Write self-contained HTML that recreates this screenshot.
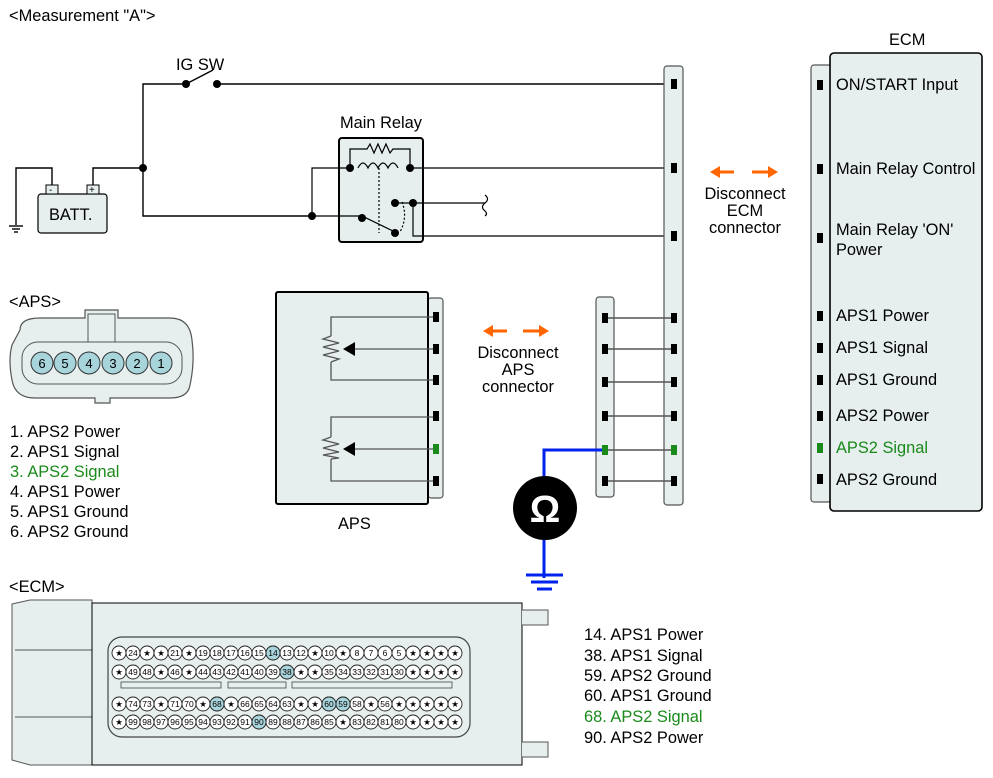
<!DOCTYPE html>
<html><head><meta charset="utf-8"><style>
html,body{margin:0;padding:0;background:#fff}
svg{display:block}
text{font-family:"Liberation Sans",Arial,sans-serif;fill:#000}
.l{font-size:16.4px}
.p{font-size:8.5px;text-anchor:middle}
</style></head><body>
<svg width="993" height="778" viewBox="0 0 993 778" xmlns="http://www.w3.org/2000/svg">
<text x="9" y="21" class="l">&lt;Measurement "A"&gt;</text>

<!-- top wiring -->
<g stroke="#000" stroke-width="1.4" fill="none">
<polyline points="186,84 143,84 143,216 312,216"/>
<line x1="217" y1="84" x2="673" y2="84"/>
<line x1="186" y1="84" x2="213" y2="70"/>
<polyline points="93,188 93,168 143,168"/>
<polyline points="52,188 52,168 16,168 16,225"/>
<line x1="9" y1="226" x2="23" y2="226"/><line x1="12" y1="229" x2="20" y2="229"/><line x1="14" y1="232" x2="18" y2="232"/>
</g>
<circle cx="186" cy="84" r="4"/><circle cx="217" cy="84" r="4"/><circle cx="143" cy="168" r="4"/>
<text x="176" y="70" class="l">IG SW</text>

<!-- battery -->
<rect x="38" y="194" width="69" height="39" rx="3" fill="#e6eeee" stroke="#000" stroke-width="1.2"/>
<rect x="46" y="185" width="12" height="9" fill="#e6eeee" stroke="#000"/>
<rect x="87" y="185" width="12" height="9" fill="#e6eeee" stroke="#000"/>
<text x="49" y="193" font-size="10">-</text><text x="89" y="193" font-size="10">+</text>
<text x="49" y="220" class="l">BATT.</text>

<!-- main relay -->
<text x="340" y="128" class="l">Main Relay</text>
<rect x="339" y="138" width="84" height="104" rx="3" fill="#e6eeee" stroke="#000" stroke-width="2"/>
<g stroke="#000" stroke-width="1.2" fill="none">
<polyline points="350,168 350,149 367,149 370,144 374,153 378,144 382,153 386,144 390,153 393,149 410,149 410,168"/>
<path d="M358,168 q5,-10 10,0 q5,-10 10,0 q5,-10 10,0 q5,-10 10,0"/>
<line x1="379" y1="168" x2="379" y2="233" stroke-dasharray="2,2"/>
<path d="M402,202 q6,15 -2,30" stroke-dasharray="2,2"/>
<polyline points="312,216 362,216 395,232"/>
<polyline points="312,216 312,168 350,168"/>
<line x1="410" y1="168" x2="673" y2="168"/>
<polyline points="395,203 413,203 413,236 673,236"/>
<line x1="413" y1="203" x2="485" y2="203"/>
<path d="M485,195 q5,4 0,8 q-5,4 0,8 q3,3 0,5"/>
</g>
<circle cx="312" cy="216" r="4"/><circle cx="350" cy="168" r="4"/><circle cx="410" cy="168" r="4"/>
<circle cx="362" cy="218" r="4"/><circle cx="395" cy="233" r="4"/><circle cx="395" cy="203" r="4"/><circle cx="413" cy="203" r="4"/>

<!-- ECM middle connector bar -->
<rect x="664" y="66" width="19" height="439" rx="3" fill="#e6eeee" stroke="#555" stroke-width="1.2"/>
<!-- APS side connector -->
<rect x="596" y="297" width="18" height="200" rx="3" fill="#e6eeee" stroke="#555" stroke-width="1.2"/>
<g stroke="#555" stroke-width="1.4">
<line x1="604" y1="318" x2="673" y2="318"/><line x1="604" y1="349" x2="673" y2="349"/><line x1="604" y1="382" x2="673" y2="382"/>
<line x1="604" y1="416" x2="673" y2="416"/><line x1="604" y1="450" x2="673" y2="450"/><line x1="604" y1="481" x2="673" y2="481"/>
</g>
<g fill="#000">
<rect x="671" y="79" width="6" height="10"/><rect x="671" y="163" width="6" height="10"/><rect x="671" y="231" width="6" height="10"/>
<rect x="671" y="313" width="6" height="10"/><rect x="671" y="344" width="6" height="10"/><rect x="671" y="377" width="6" height="10"/>
<rect x="671" y="411" width="6" height="10"/><rect x="671" y="476" width="6" height="10"/>
<rect x="602" y="313" width="6" height="10"/><rect x="602" y="344" width="6" height="10"/><rect x="602" y="377" width="6" height="10"/>
<rect x="602" y="411" width="6" height="10"/><rect x="602" y="476" width="6" height="10"/>
</g>
<rect x="671" y="445" width="6" height="10" fill="#1a8a1a"/>
<!-- blue meter -->
<polyline points="602,450 544,450 544,578" stroke="#0022ee" stroke-width="3" fill="none"/>
<line x1="526" y1="575" x2="563" y2="575" stroke="#0022ee" stroke-width="3"/>
<line x1="531" y1="582" x2="558" y2="582" stroke="#0022ee" stroke-width="3"/>
<line x1="537" y1="589" x2="552" y2="589" stroke="#0022ee" stroke-width="3"/>
<rect x="602" y="445" width="6" height="10" fill="#1a8a1a"/>
<circle cx="545" cy="508" r="32" fill="#000"/>
<text x="545" y="522" text-anchor="middle" font-size="38" font-weight="bold" style="fill:#fff">Ω</text>

<!-- orange arrows -->
<g fill="#ff6600" stroke="#ff6600" stroke-width="3">
<line x1="717" y1="172" x2="734" y2="172"/><polygon points="710,172 720,166 720,178" stroke="none"/>
<line x1="752" y1="172" x2="770" y2="172"/><polygon points="778,172 768,166 768,178" stroke="none"/>
<line x1="490" y1="331" x2="507" y2="331"/><polygon points="483,331 493,325 493,337" stroke="none"/>
<line x1="523" y1="331" x2="541" y2="331"/><polygon points="549,331 539,325 539,337" stroke="none"/>
</g>
<g class="l" text-anchor="middle">
<text x="745" y="199">Disconnect</text><text x="745" y="216">ECM</text><text x="745" y="233">connector</text>
<text x="518" y="358">Disconnect</text><text x="518" y="375">APS</text><text x="518" y="392">connector</text>
</g>

<!-- APS box -->
<rect x="428" y="298" width="15" height="200" rx="3" fill="#e6eeee" stroke="#555" stroke-width="1.2"/>
<rect x="276" y="292" width="152" height="212" rx="2" fill="#e6eeee" stroke="#000" stroke-width="2"/>
<g stroke="#555" stroke-width="1.3" fill="none">
<polyline points="435,317 331,317 331,336"/><polyline points="331,362 331,380 435,380"/>
<polyline points="435,417 331,417 331,437"/><polyline points="331,459 331,481 435,481"/>
<polyline points="331,336 323,339 339,343 323,347 339,351 323,355 339,359 331,362"/>
<polyline points="331,437 323,440 339,444 323,448 339,452 323,455 339,458 331,459"/>
<line x1="345" y1="349" x2="435" y2="349"/><line x1="345" y1="449" x2="435" y2="449"/>
</g>
<polygon points="343,349 355,342 355,356"/><polygon points="343,449 355,442 355,456"/>
<g fill="#000"><rect x="433" y="312" width="6" height="10"/><rect x="433" y="344" width="6" height="10"/><rect x="433" y="375" width="6" height="10"/><rect x="433" y="411" width="6" height="10"/><rect x="433" y="476" width="6" height="10"/></g>
<rect x="433" y="444" width="6" height="10" fill="#1a8a1a"/>
<text x="338" y="529" class="l">APS</text>

<!-- ECM right box -->
<rect x="811" y="65" width="20" height="437" rx="3" fill="#e6eeee" stroke="#555" stroke-width="1.2"/>
<rect x="830" y="53" width="152" height="458" rx="4" fill="#e6eeee" stroke="#000" stroke-width="1.6"/>
<text x="889" y="45" class="l">ECM</text>
<g fill="#000"><rect x="817" y="80" width="6" height="10"/><rect x="817" y="164" width="6" height="10"/><rect x="817" y="233" width="6" height="10"/><rect x="817" y="311" width="6" height="10"/><rect x="817" y="343" width="6" height="10"/><rect x="817" y="375" width="6" height="10"/><rect x="817" y="411" width="6" height="10"/><rect x="817" y="474" width="6" height="10"/></g>
<rect x="817" y="443" width="6" height="10" fill="#1a8a1a"/>
<g class="l">
<text x="836" y="90">ON/START Input</text>
<text x="836" y="174">Main Relay Control</text>
<text x="836" y="235">Main Relay 'ON'</text><text x="836" y="255">Power</text>
<text x="836" y="321">APS1 Power</text><text x="836" y="353">APS1 Signal</text><text x="836" y="385">APS1 Ground</text>
<text x="836" y="421">APS2 Power</text><text x="836" y="453" style="fill:#1a8a1a">APS2 Signal</text><text x="836" y="485">APS2 Ground</text>
</g>

<!-- APS connector face -->
<text x="9" y="307" class="l">&lt;APS&gt;</text>
<path d="M20,330 Q20,318 40,318 L85,318 L85,310 L118,310 L118,318 L170,318 Q190,318 192,340 Q195,362 190,385 Q188,398 170,398 L110,398 L110,403 L95,403 L95,398 L35,398 Q15,398 12,380 Q8,360 12,345 Z" fill="#e6eeee" stroke="#555" stroke-width="1.2"/>
<rect x="88" y="314" width="27" height="38" fill="#e6eeee" stroke="#555"/>
<rect x="22" y="342" width="160" height="42" rx="16" fill="#e6eeee" stroke="#555"/>
<g fill="#a8d4dc" stroke="#333" stroke-width="1">
<circle cx="42" cy="363" r="11"/><circle cx="65" cy="363" r="11"/><circle cx="89" cy="363" r="11"/><circle cx="113" cy="363" r="11"/><circle cx="137" cy="363" r="11"/><circle cx="161" cy="363" r="11"/>
</g>
<g font-size="13" text-anchor="middle"><text x="42" y="368">6</text><text x="65" y="368">5</text><text x="89" y="368">4</text><text x="113" y="368">3</text><text x="137" y="368">2</text><text x="161" y="368">1</text></g>
<g class="l">
<text x="10" y="437">1. APS2 Power</text><text x="10" y="457">2. APS1 Signal</text>
<text x="10" y="477" style="fill:#1a8a1a">3. APS2 Signal</text>
<text x="10" y="497">4. APS1 Power</text><text x="10" y="517">5. APS1 Ground</text><text x="10" y="537">6. APS2 Ground</text>
</g>

<!-- ECM connector -->
<text x="9" y="592" class="l">&lt;ECM&gt;</text>
<path d="M12,604 L30,600 L92,600 L92,765 L30,765 L12,760 Z" fill="#e6eeee" stroke="#555"/>
<line x1="15" y1="650" x2="92" y2="650" stroke="#555"/><line x1="15" y1="717" x2="92" y2="717" stroke="#555"/>
<rect x="92" y="603" width="430" height="162" fill="#e6eeee" stroke="#000" stroke-width="1"/>
<path d="M522,610 L548,610 L548,625 L522,625 M522,742 L548,742 L548,757 L522,757" fill="#e6eeee" stroke="#555"/>
<rect x="108" y="637" width="362" height="100" rx="14" fill="#e6eeee" stroke="#444" stroke-width="1.2"/>
<rect x="121" y="682" width="100" height="6" fill="#e6eeee" stroke="#444" stroke-width="0.8"/>
<rect x="228" y="682" width="58" height="6" fill="#e6eeee" stroke="#444" stroke-width="0.8"/>
<rect x="292" y="682" width="160" height="6" fill="#e6eeee" stroke="#444" stroke-width="0.8"/>
<g fill="#fff" stroke="#222" stroke-width="0.9">
<g id="r1">
<circle cx="119" cy="653" r="7"/><circle cx="133" cy="653" r="7"/><circle cx="147" cy="653" r="7"/><circle cx="161" cy="653" r="7"/><circle cx="175" cy="653" r="7"/><circle cx="189" cy="653" r="7"/><circle cx="203" cy="653" r="7"/><circle cx="217" cy="653" r="7"/><circle cx="231" cy="653" r="7"/><circle cx="245" cy="653" r="7"/><circle cx="259" cy="653" r="7"/><circle cx="273" cy="653" r="7"/><circle cx="287" cy="653" r="7"/><circle cx="301" cy="653" r="7"/><circle cx="315" cy="653" r="7"/><circle cx="329" cy="653" r="7"/><circle cx="343" cy="653" r="7"/><circle cx="357" cy="653" r="7"/><circle cx="371" cy="653" r="7"/><circle cx="385" cy="653" r="7"/><circle cx="399" cy="653" r="7"/><circle cx="413" cy="653" r="7"/><circle cx="427" cy="653" r="7"/><circle cx="441" cy="653" r="7"/><circle cx="455" cy="653" r="7"/>
</g>
<use href="#r1" y="19"/><use href="#r1" y="51"/><use href="#r1" y="69"/>
</g>
<g fill="#a8d4dc" stroke="#222" stroke-width="0.9">
<circle cx="273" cy="653" r="7"/><circle cx="287" cy="672" r="7"/><circle cx="217" cy="704" r="7"/><circle cx="329" cy="704" r="7"/><circle cx="343" cy="704" r="7"/><circle cx="259" cy="722" r="7"/>
</g>
<g class="p">
<text y="656"><tspan x="119">★</tspan><tspan x="133">24</tspan><tspan x="147">★</tspan><tspan x="161">★</tspan><tspan x="175">21</tspan><tspan x="189">★</tspan><tspan x="203">19</tspan><tspan x="217">18</tspan><tspan x="231">17</tspan><tspan x="245">16</tspan><tspan x="259">15</tspan><tspan x="273">14</tspan><tspan x="287">13</tspan><tspan x="301">12</tspan><tspan x="315">★</tspan><tspan x="329">10</tspan><tspan x="343">★</tspan><tspan x="357">8</tspan><tspan x="371">7</tspan><tspan x="385">6</tspan><tspan x="399">5</tspan><tspan x="413">★</tspan><tspan x="427">★</tspan><tspan x="441">★</tspan><tspan x="455">★</tspan></text>
<text y="675"><tspan x="119">★</tspan><tspan x="133">49</tspan><tspan x="147">48</tspan><tspan x="161">★</tspan><tspan x="175">46</tspan><tspan x="189">★</tspan><tspan x="203">44</tspan><tspan x="217">43</tspan><tspan x="231">42</tspan><tspan x="245">41</tspan><tspan x="259">40</tspan><tspan x="273">39</tspan><tspan x="287">38</tspan><tspan x="301">★</tspan><tspan x="315">★</tspan><tspan x="329">35</tspan><tspan x="343">34</tspan><tspan x="357">33</tspan><tspan x="371">32</tspan><tspan x="385">31</tspan><tspan x="399">30</tspan><tspan x="413">★</tspan><tspan x="427">★</tspan><tspan x="441">★</tspan><tspan x="455">★</tspan></text>
<text y="707"><tspan x="119">★</tspan><tspan x="133">74</tspan><tspan x="147">73</tspan><tspan x="161">★</tspan><tspan x="175">71</tspan><tspan x="189">70</tspan><tspan x="203">★</tspan><tspan x="217">68</tspan><tspan x="231">★</tspan><tspan x="245">66</tspan><tspan x="259">65</tspan><tspan x="273">64</tspan><tspan x="287">63</tspan><tspan x="301">★</tspan><tspan x="315">★</tspan><tspan x="329">60</tspan><tspan x="343">59</tspan><tspan x="357">58</tspan><tspan x="371">★</tspan><tspan x="385">56</tspan><tspan x="399">★</tspan><tspan x="413">★</tspan><tspan x="427">★</tspan><tspan x="441">★</tspan><tspan x="455">★</tspan></text>
<text y="725"><tspan x="119">★</tspan><tspan x="133">99</tspan><tspan x="147">98</tspan><tspan x="161">97</tspan><tspan x="175">96</tspan><tspan x="189">95</tspan><tspan x="203">94</tspan><tspan x="217">93</tspan><tspan x="231">92</tspan><tspan x="245">91</tspan><tspan x="259">90</tspan><tspan x="273">89</tspan><tspan x="287">88</tspan><tspan x="301">87</tspan><tspan x="315">86</tspan><tspan x="329">85</tspan><tspan x="343">★</tspan><tspan x="357">83</tspan><tspan x="371">82</tspan><tspan x="385">81</tspan><tspan x="399">80</tspan><tspan x="413">★</tspan><tspan x="427">★</tspan><tspan x="441">★</tspan><tspan x="455">★</tspan></text>
</g>
<g class="l">
<text x="584" y="640">14. APS1 Power</text><text x="584" y="661">38. APS1 Signal</text><text x="584" y="681">59. APS2 Ground</text>
<text x="584" y="701">60. APS1 Ground</text><text x="584" y="722" style="fill:#1a8a1a">68. APS2 Signal</text><text x="584" y="743">90. APS2 Power</text>
</g>
</svg>
</body></html>
